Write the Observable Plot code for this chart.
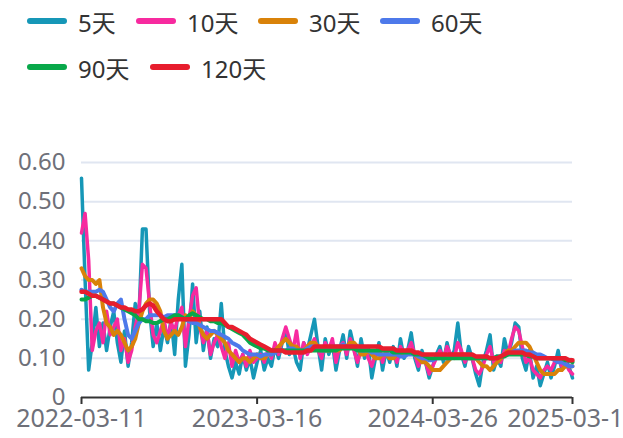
<!DOCTYPE html>
<html><head><meta charset="utf-8">
<script src="https://cdn.jsdelivr.net/npm/d3@7"></script>
<script src="https://cdn.jsdelivr.net/npm/@observablehq/plot@0.6"></script>
<style>
html,body{margin:0;padding:0;overflow:hidden;background:#fff;width:623px;height:438px}
#wrap{position:relative;width:623px;height:438px;overflow:hidden}
#chart{position:absolute;left:0;top:0}
.item{position:absolute;display:flex;align-items:center;height:30px;font-family:"Noto Sans","Noto Sans CJK SC",sans-serif;font-size:24px;color:#333;white-space:nowrap}
.sw{width:40px;height:6px;border-radius:3px;margin-right:11px}
</style></head>
<body><div id="wrap"><div id="chart"></div></div>
<script>
const seriesNames = ["5天","10天","30天","60天","90天","120天"];
const colors = ["#1697b7","#f72a9f","#d98209","#4d79ea","#08a84a","#e71d2d"];
const tickIndex = [0, 49, 98, 137];
const tickLabels = ["2022-03-11","2023-03-16","2024-03-26","2025-03-14"];
const yTicks = [0, 0.1, 0.2, 0.3, 0.4, 0.5, 0.6];

const s5 = [0.56,0.30,0.07,0.14,0.23,0.13,0.19,0.12,0.18,0.22,
0.14,0.09,0.17,0.08,0.14,0.24,0.20,0.43,0.43,0.22,
0.13,0.19,0.12,0.18,0.14,0.20,0.11,0.25,0.34,0.08,
0.16,0.29,0.14,0.22,0.12,0.18,0.10,0.15,0.13,0.24,
0.12,0.08,0.05,0.09,0.06,0.11,0.07,0.10,0.05,0.09,
0.12,0.07,0.10,0.08,0.13,0.10,0.14,0.17,0.11,0.13,
0.09,0.07,0.14,0.12,0.16,0.20,0.13,0.07,0.15,0.11,
0.14,0.07,0.12,0.16,0.10,0.17,0.13,0.08,0.15,0.10,
0.13,0.05,0.10,0.14,0.07,0.12,0.09,0.13,0.08,0.15,
0.10,0.12,0.165,0.10,0.07,0.12,0.09,0.05,0.08,0.11,
0.13,0.09,0.14,0.10,0.12,0.19,0.11,0.08,0.13,0.10,
0.06,0.03,0.09,0.12,0.16,0.07,0.10,0.08,0.15,0.11,
0.14,0.19,0.18,0.10,0.07,0.12,0.05,0.08,0.03,0.06,
0.09,0.05,0.08,0.12,0.07,0.10,0.08,0.05];
const s10 = [0.42,0.47,0.35,0.12,0.17,0.19,0.14,0.22,0.16,0.18,
0.20,0.12,0.15,0.09,0.12,0.18,0.22,0.34,0.33,0.24,
0.16,0.14,0.17,0.20,0.15,0.19,0.17,0.21,0.23,0.13,
0.20,0.26,0.28,0.18,0.14,0.17,0.11,0.14,0.16,0.13,
0.10,0.14,0.08,0.12,0.09,0.11,0.08,0.12,0.09,0.10,
0.11,0.09,0.12,0.10,0.14,0.11,0.15,0.18,0.15,0.12,
0.17,0.10,0.14,0.11,0.13,0.15,0.12,0.10,0.14,0.12,
0.15,0.09,0.13,0.14,0.11,0.15,0.12,0.09,0.12,0.13,
0.10,0.08,0.11,0.13,0.09,0.12,0.10,0.12,0.09,0.13,
0.11,0.12,0.14,0.11,0.08,0.10,0.09,0.06,0.08,0.10,
0.12,0.10,0.13,0.11,0.10,0.14,0.12,0.09,0.11,0.10,
0.07,0.06,0.08,0.11,0.13,0.09,0.10,0.09,0.12,0.11,
0.15,0.18,0.17,0.13,0.09,0.10,0.07,0.06,0.05,0.07,
0.08,0.07,0.09,0.10,0.08,0.09,0.07,0.06];
const s30 = [0.33,0.31,0.30,0.30,0.29,0.30,0.23,0.19,0.18,0.16,
0.17,0.16,0.14,0.12,0.13,0.15,0.19,0.22,0.24,0.25,
0.25,0.24,0.22,0.17,0.15,0.16,0.17,0.16,0.18,0.21,
0.20,0.22,0.21,0.18,0.16,0.15,0.16,0.17,0.16,0.15,
0.14,0.12,0.11,0.10,0.09,0.10,0.10,0.09,0.10,0.11,
0.10,0.10,0.11,0.11,0.12,0.13,0.14,0.15,0.14,0.13,
0.13,0.12,0.12,0.13,0.14,0.14,0.13,0.12,0.12,0.12,
0.13,0.12,0.12,0.13,0.13,0.14,0.14,0.13,0.11,0.11,
0.12,0.11,0.10,0.10,0.11,0.11,0.10,0.10,0.11,0.11,
0.11,0.12,0.12,0.11,0.10,0.09,0.09,0.08,0.07,0.07,
0.07,0.08,0.09,0.10,0.11,0.11,0.11,0.11,0.10,0.10,
0.10,0.09,0.08,0.08,0.07,0.08,0.09,0.10,0.11,0.12,
0.12,0.13,0.14,0.14,0.14,0.13,0.11,0.09,0.07,0.06,
0.06,0.06,0.06,0.07,0.07,0.08,0.08,0.08];
const s60 = [0.275,0.27,0.27,0.27,0.27,0.275,0.27,0.25,0.23,0.22,
0.24,0.25,0.20,0.16,0.15,0.17,0.19,0.20,0.20,0.21,
0.21,0.21,0.21,0.205,0.21,0.21,0.21,0.21,0.205,0.20,
0.195,0.19,0.19,0.185,0.18,0.175,0.17,0.17,0.165,0.16,
0.155,0.15,0.14,0.135,0.13,0.12,0.115,0.11,0.11,0.11,
0.105,0.11,0.11,0.11,0.115,0.12,0.12,0.12,0.125,0.125,
0.12,0.12,0.12,0.125,0.13,0.13,0.125,0.12,0.12,0.125,
0.13,0.13,0.13,0.135,0.13,0.13,0.13,0.125,0.12,0.12,
0.12,0.115,0.115,0.11,0.11,0.11,0.11,0.11,0.11,0.105,
0.105,0.11,0.11,0.11,0.105,0.10,0.10,0.095,0.095,0.10,
0.10,0.10,0.10,0.10,0.105,0.105,0.105,0.10,0.10,0.10,
0.10,0.10,0.10,0.10,0.10,0.10,0.105,0.105,0.11,0.11,
0.115,0.12,0.12,0.12,0.12,0.115,0.115,0.11,0.11,0.105,
0.10,0.10,0.095,0.09,0.09,0.085,0.08,0.08];
const s90 = [0.25,0.25,0.255,0.26,0.26,0.255,0.25,0.245,0.24,0.24,
0.235,0.23,0.225,0.22,0.215,0.21,0.20,0.20,0.195,0.195,
0.19,0.19,0.195,0.20,0.20,0.205,0.21,0.21,0.205,0.20,
0.21,0.215,0.21,0.205,0.20,0.20,0.195,0.195,0.19,0.19,
0.185,0.18,0.175,0.17,0.165,0.16,0.15,0.14,0.135,0.13,
0.125,0.125,0.12,0.12,0.12,0.12,0.12,0.12,0.12,0.12,
0.12,0.12,0.12,0.12,0.12,0.12,0.12,0.12,0.12,0.12,
0.12,0.12,0.125,0.125,0.125,0.125,0.125,0.12,0.12,0.12,
0.12,0.12,0.12,0.12,0.12,0.12,0.12,0.115,0.115,0.115,
0.115,0.115,0.115,0.11,0.11,0.11,0.105,0.10,0.10,0.10,
0.10,0.10,0.10,0.10,0.10,0.10,0.10,0.10,0.10,0.10,
0.10,0.10,0.10,0.10,0.10,0.10,0.105,0.105,0.105,0.11,
0.11,0.11,0.11,0.11,0.11,0.105,0.105,0.10,0.10,0.10,
0.10,0.10,0.10,0.10,0.10,0.095,0.095,0.09];
const s120 = [0.27,0.27,0.265,0.26,0.26,0.255,0.25,0.245,0.24,0.24,
0.235,0.23,0.23,0.225,0.225,0.22,0.22,0.225,0.235,0.24,
0.235,0.22,0.21,0.20,0.195,0.195,0.20,0.20,0.20,0.20,
0.20,0.20,0.20,0.20,0.20,0.20,0.20,0.20,0.20,0.20,
0.19,0.18,0.18,0.175,0.17,0.165,0.16,0.15,0.145,0.14,
0.135,0.13,0.125,0.12,0.12,0.12,0.12,0.115,0.115,0.115,
0.115,0.115,0.115,0.12,0.12,0.13,0.13,0.13,0.13,0.13,
0.13,0.13,0.13,0.13,0.13,0.13,0.13,0.13,0.13,0.13,
0.13,0.13,0.13,0.13,0.125,0.125,0.125,0.125,0.12,0.12,
0.12,0.12,0.12,0.115,0.115,0.11,0.11,0.11,0.11,0.11,
0.11,0.11,0.11,0.11,0.11,0.11,0.11,0.11,0.11,0.11,
0.105,0.105,0.105,0.105,0.10,0.10,0.10,0.105,0.11,0.115,
0.115,0.115,0.115,0.115,0.11,0.11,0.105,0.10,0.10,0.10,
0.10,0.10,0.10,0.10,0.10,0.10,0.095,0.095];

const allSeries = [s5, s10, s30, s60, s90, s120];
const widths = [3.5, 3.5, 4, 4, 4, 4.5];
const N = s5.length;

const lineMarks = allSeries.map((s, k) =>
  Plot.line(s, {x: (d, i) => i, y: d => d, stroke: colors[k], strokeWidth: widths[k], strokeLinejoin: "round", strokeLinecap: "round"})
);

const chart = Plot.plot({
  width: 623, height: 438,
  marginTop: 162, marginBottom: 41, marginLeft: 81, marginRight: 51,
  x: {type: "linear", domain: [0, N - 1]},
  y: {domain: [0, 0.6]},
  style: {fontFamily: '"Noto Sans","Noto Sans CJK SC",sans-serif', fontSize: "24px", background: "transparent", overflow: "visible"},
  marks: [
    Plot.ruleY(yTicks.filter(v => v > 0), {stroke: "#e0e6f1", strokeWidth: 2}),
    Plot.axisY({ticks: yTicks, tickFormat: v => v === 0 ? "0" : v.toFixed(2), tickSize: 0, tickPadding: 16, fill: "#6e7079", fontSize: 24}),
    Plot.axisX({ticks: tickIndex, tickFormat: v => tickLabels[tickIndex.indexOf(v)], tickSize: 7, tickPadding: 5, stroke: "#333", strokeWidth: 2, fill: "#6e7079", fontSize: 25}),
    Plot.ruleY([0], {stroke: "#333", strokeWidth: 2}),
    ...lineMarks
  ]
});
document.getElementById("chart").appendChild(chart);

const legendPos = [[27,21],[136,21],[258,21],[380,21],[27,67],[150,67]];
const wrap = document.getElementById("wrap");
seriesNames.forEach((name, k) => {
  const it = document.createElement("div");
  it.className = "item";
  it.style.left = legendPos[k][0] + "px";
  it.style.top = (legendPos[k][1] - 15) + "px";
  const sw = document.createElement("span");
  sw.className = "sw";
  sw.style.background = colors[k];
  const tx = document.createElement("span");
  tx.textContent = name;
  it.appendChild(sw); it.appendChild(tx);
  wrap.appendChild(it);
});
</script></body></html>
